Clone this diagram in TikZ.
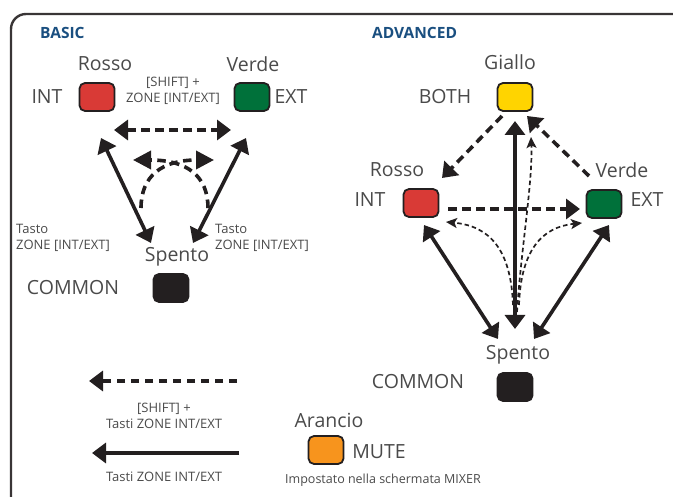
\documentclass[tikz,border=0pt]{standalone}
\usepackage{fontspec}
\setmainfont{Open Sans}
\usetikzlibrary{arrows.meta}
\definecolor{tgrey}{HTML}{4A4A4A}
\definecolor{tblue}{HTML}{1A4F80}
\definecolor{cred}{HTML}{D93A36}
\definecolor{cgreen}{HTML}{00713A}
\definecolor{cyellow}{HTML}{FFD400}
\definecolor{corange}{HTML}{F7941D}
\definecolor{cblack}{HTML}{231F20}
\tikzset{
  bh/.tip={Triangle[length=14pt,width=20pt]},
  ch/.tip={Triangle[length=18pt,width=18pt]},
  sh/.tip={Stealth[length=11pt,width=10pt,inset=2.5pt]}
}
\begin{document}
\begin{tikzpicture}[x=1pt,y=-1pt,
  lamp/.style={draw=cblack,line width=1.8pt,rounded corners=5.5pt,minimum width=35pt,minimum height=28pt,inner sep=0pt},
  lbl/.style={text=tgrey,font=\fontsize{19.5}{19.5}\selectfont,inner sep=0pt},
  small/.style={text=tgrey,font=\fontsize{13}{15.5}\selectfont,inner sep=0pt,align=center},
  smallL/.style={text=tgrey,font=\fontsize{13}{16}\selectfont,inner sep=0pt,align=left},
  head/.style={text=tblue,font=\fontsize{15.5}{15.5}\selectfont\bfseries,inner sep=0pt,anchor=west},
  sol/.style={line width=3.6pt,draw=cblack},
  dsh/.style={line width=3.6pt,draw=cblack,dash pattern=on 8.5pt off 5.5pt},
  thin/.style={line width=1.7pt,draw=cblack,dash pattern=on 4.5pt off 3pt}
]
\useasboundingbox (0,0) rectangle (673,497);
\clip (0,0) rectangle (673,497);
\draw[line width=2.4pt,draw=cblack!90,rounded corners=15pt] (11,14) rectangle (688,530);

% BASIC
\node[head] (hb) at (40,33) {BASIC};
\node[lamp,fill=cred] (br) at (97,97) {};
\node[lamp,fill=cgreen] (bg) at (252,97) {};
\node[lamp,fill=cblack] (bk) at (171,288) {};
\node[lbl] (brl) at (105,64) {Rosso};
\node[lbl] (bgl) at (253,64) {Verde};
\node[lbl] (bint) at (47,97) {INT};
\node[lbl] (bext) at (291,97) {EXT};
\node[lbl] (bkl) at (177,257) {Spento};
\node[lbl] (bcom) at (73,288) {COMMON};
\node[small] (bsh) at (173,91) {[SHIFT] +\\ZONE [INT/EXT]};
\node[smallL,anchor=west] (bt1) at (16,238) {Tasto\\ZONE [INT/EXT]};
\node[smallL,anchor=west] (bt2) at (215,238) {Tasto\\ZONE [INT/EXT]};

\coordinate (b1) at (114,130);
\coordinate (b2) at (231,130);
\draw[dsh,{bh}-{bh}] (b1) -- (b2);
\coordinate (b3) at (101,138);
\coordinate (b4) at (151,243);
\draw[sol,{bh}-{bh}] (b3) -- (b4);
\coordinate (b5) at (246,138);
\coordinate (b6) at (193,243);
\draw[sol,{bh}-{bh}] (b5) -- (b6);
\coordinate (b7) at (141,208);
\coordinate (b8) at (214,160);
\draw[dsh,-{ch}] (b7) .. controls (141,176) and (162,160) .. (b8);
\coordinate (b9) at (208,208);
\coordinate (b10) at (133,160);
\draw[dsh,-{ch}] (b9) .. controls (208,176) and (187,160) .. (b10);

% ADVANCED
\node[head] (ha) at (372,33) {ADVANCED};
\node[lamp,fill=cyellow] (ay) at (515,97) {};
\node[lamp,fill=cred] (ar) at (421,203) {};
\node[lamp,fill=cgreen] (ag) at (604,204) {};
\node[lamp,fill=cblack] (ak) at (515,387) {};
\node[lbl] (ayl) at (510,62) {Giallo};
\node[lbl] (aboth) at (445,97) {BOTH};
\node[lbl] (arl) at (397,170) {Rosso};
\node[lbl] (aint) at (370,200) {INT};
\node[lbl] (agl) at (622,170) {Verde};
\node[lbl] (aext) at (647,200) {EXT};
\node[lbl] (akl) at (518,355) {Spento};
\node[lbl] (acom) at (418,382) {COMMON};

\coordinate (a1) at (502,116);
\coordinate (a2) at (442,178);
\draw[dsh,-{bh}] (a1) -- (a2);
\coordinate (a3) at (589,176);
\coordinate (a4) at (527,116);
\draw[dsh,-{bh}] (a3) -- (a4);
\coordinate (a5) at (448,209);
\coordinate (a6) at (580,209);
\draw[dsh,-{bh}] (a5) -- (a6);
\coordinate (a7) at (515,121);
\coordinate (a8) at (515,329);
\draw[sol,{bh}-{bh}] (a7) -- (a8);
\coordinate (a9) at (424,225);
\coordinate (a10) at (498,339);
\draw[sol,{bh}-{bh}] (a9) -- (a10);
\coordinate (a11) at (609,225);
\coordinate (a12) at (534,339);
\draw[sol,{bh}-{bh}] (a11) -- (a12);
\coordinate (s0) at (517,312);
\coordinate (t1) at (531,137);
\draw[thin,-{sh}] (s0) .. controls (521,250) and (533,180) .. (t1);
\coordinate (s1) at (513,305);
\coordinate (t2) at (446,222);
\draw[thin,-{sh}] (s1) .. controls (511,250) and (490,226) .. (t2);
\coordinate (s2) at (519,305);
\coordinate (t3) at (582,223);
\draw[thin,-{sh}] (s2) .. controls (521,250) and (542,227) .. (t3);

% Legend
\coordinate (l1) at (237,381);
\coordinate (l2) at (89,381);
\draw[dsh,-{bh}] (l1) -- (l2);
\node[small] (lt1) at (164,416) {[SHIFT] +\\Tasti ZONE INT/EXT};
\coordinate (l3) at (239,453);
\coordinate (l4) at (92,453);
\draw[sol,-{bh}] (l3) -- (l4);
\node[small] (lt2) at (164,477) {Tasti ZONE INT/EXT};
\node[lamp,fill=corange] (ao) at (326,450) {};
\node[lbl] (aol) at (329,420) {Arancio};
\node[lbl] (amute) at (379,452) {MUTE};
\node[small,font=\fontsize{12.5}{14}\selectfont] (aimp) at (383,480) {Impostato nella schermata MIXER};
\end{tikzpicture}
\end{document}
